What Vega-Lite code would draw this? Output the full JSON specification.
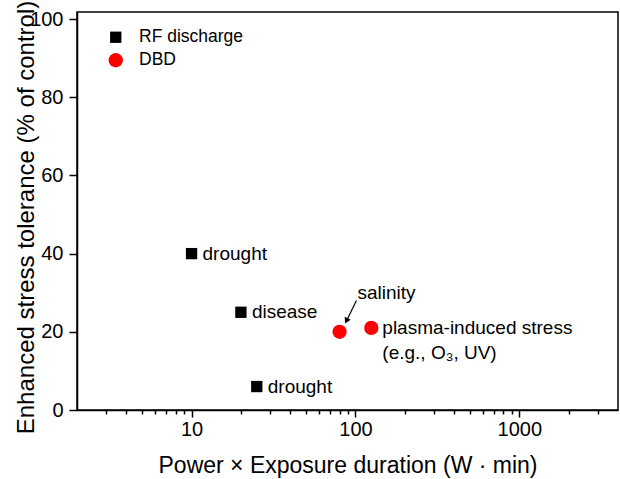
{
  "$schema": "https://vega.github.io/schema/vega-lite/v6.json",
  "width": 541,
  "height": 398,
  "autosize": {"type": "none"},
  "padding": {"left": 77, "top": 12, "right": 2, "bottom": 69},
  "config": {
    "font": "Liberation Sans",
    "view": {"stroke": "black", "strokeWidth": 1.5},
    "axis": {
      "domainColor": "black", "domainWidth": 1.5,
      "tickColor": "black", "tickWidth": 1.5,
      "labelColor": "black", "titleColor": "black",
      "grid": false,
      "labelFont": "Liberation Sans", "titleFont": "Liberation Sans",
      "titleFontWeight": "normal", "labelFontSize": 20
    },
    "legend": {"labelFont": "Liberation Sans", "labelColor": "black"}
  },
  "datasets": {
    "points": [
      {"x": 10, "y": 40, "series": "RF discharge", "label": "drought"},
      {"x": 20, "y": 25, "series": "RF discharge", "label": "disease"},
      {"x": 25, "y": 6, "series": "RF discharge", "label": "drought"},
      {"x": 80, "y": 20, "series": "DBD", "label": ""},
      {"x": 125, "y": 21, "series": "DBD", "label": "plasma-induced stress\n(e.g., O₃, UV)"}
    ],
    "arrow": [{"x": 101.4, "y": 28.0, "x2": 89.2, "y2": 23.2}],
    "arrowhead": [{"x": 88.6, "y": 23.0}],
    "annotation": [{"x": 103, "y": 29.8, "label": "salinity"}]
  },
  "layer": [
    {
      "data": {"name": "points"},
      "mark": {"type": "point", "filled": true, "opacity": 1, "strokeWidth": 0},
      "encoding": {
        "x": {
          "field": "x", "type": "quantitative",
          "scale": {"type": "log", "domain": [2, 4000], "nice": false},
          "axis": {
            "title": "Power × Exposure duration (W · min)",
            "titleFontSize": 23,
            "titleY": 62.5,
            "titleBaseline": "alphabetic",
            "values": [3,4,5,6,7,8,9,10,20,30,40,50,60,70,80,90,100,200,300,400,500,600,700,800,900,1000,2000,3000],
            "labelExpr": "indexof([10,100,1000], datum.value) >= 0 ? format(datum.value, 'd') : ''",
            "labelOverlap": false,
            "labelFlush": false,
            "labelPadding": 2,
            "tickSize": {"condition": {"test": "indexof([10,100,1000], datum.value) >= 0", "value": 7}, "value": 4}
          }
        },
        "y": {
          "field": "y", "type": "quantitative",
          "scale": {"domain": [0, 101.8], "nice": false},
          "axis": {
            "title": "Enhanced stress tolerance (% of control)",
            "titleFontSize": 24,
            "titleX": -44,
            "titleY": 205,
            "titleBaseline": "alphabetic",
            "values": [0, 20, 40, 60, 80, 100],
            "tickSize": 8,
            "labelPadding": 6
          }
        },
        "shape": {
          "field": "series", "type": "nominal",
          "scale": {"domain": ["RF discharge", "DBD"], "range": ["square", "circle"]},
          "legend": {
            "title": null, "orient": "none", "legendX": 30, "legendY": 16.5,
            "labelFontSize": 17.5, "rowPadding": 4, "labelOffset": 14.5, "padding": 0
          }
        },
        "color": {
          "field": "series", "type": "nominal",
          "scale": {"domain": ["RF discharge", "DBD"], "range": ["#000000", "#ff0000"]},
          "legend": {
            "title": null, "orient": "none", "legendX": 30, "legendY": 16.5,
            "labelFontSize": 17.5, "rowPadding": 4, "labelOffset": 14.5, "padding": 0
          }
        },
        "size": {
          "field": "series", "type": "nominal",
          "scale": {"domain": ["RF discharge", "DBD"], "range": [128, 204]},
          "legend": {
            "title": null, "orient": "none", "legendX": 30, "legendY": 16.5,
            "labelFontSize": 17.5, "rowPadding": 4, "labelOffset": 14.5, "padding": 0
          }
        }
      }
    },
    {
      "data": {"name": "points"},
      "mark": {"type": "text", "align": "left", "baseline": "alphabetic", "dx": 11, "dy": 6, "fontSize": 19, "lineHeight": 25, "lineBreak": "\n", "color": "black", "font": "Liberation Sans"},
      "encoding": {
        "x": {"field": "x", "type": "quantitative"},
        "y": {"field": "y", "type": "quantitative"},
        "text": {"field": "label"}
      }
    },
    {
      "data": {"name": "annotation"},
      "mark": {"type": "text", "align": "left", "baseline": "alphabetic", "dy": 6, "fontSize": 19, "color": "black", "font": "Liberation Sans"},
      "encoding": {
        "x": {"field": "x", "type": "quantitative"},
        "y": {"field": "y", "type": "quantitative"},
        "text": {"field": "label"}
      }
    },
    {
      "data": {"name": "arrow"},
      "mark": {"type": "rule", "color": "black", "strokeWidth": 1.2},
      "encoding": {
        "x": {"field": "x", "type": "quantitative"},
        "y": {"field": "y", "type": "quantitative"},
        "x2": {"field": "x2"},
        "y2": {"field": "y2"}
      }
    },
    {
      "data": {"name": "arrowhead"},
      "mark": {"type": "point", "shape": "triangle", "angle": 206, "size": 45, "filled": true, "color": "black", "opacity": 1, "strokeWidth": 0},
      "encoding": {
        "x": {"field": "x", "type": "quantitative"},
        "y": {"field": "y", "type": "quantitative"}
      }
    }
  ]
}
